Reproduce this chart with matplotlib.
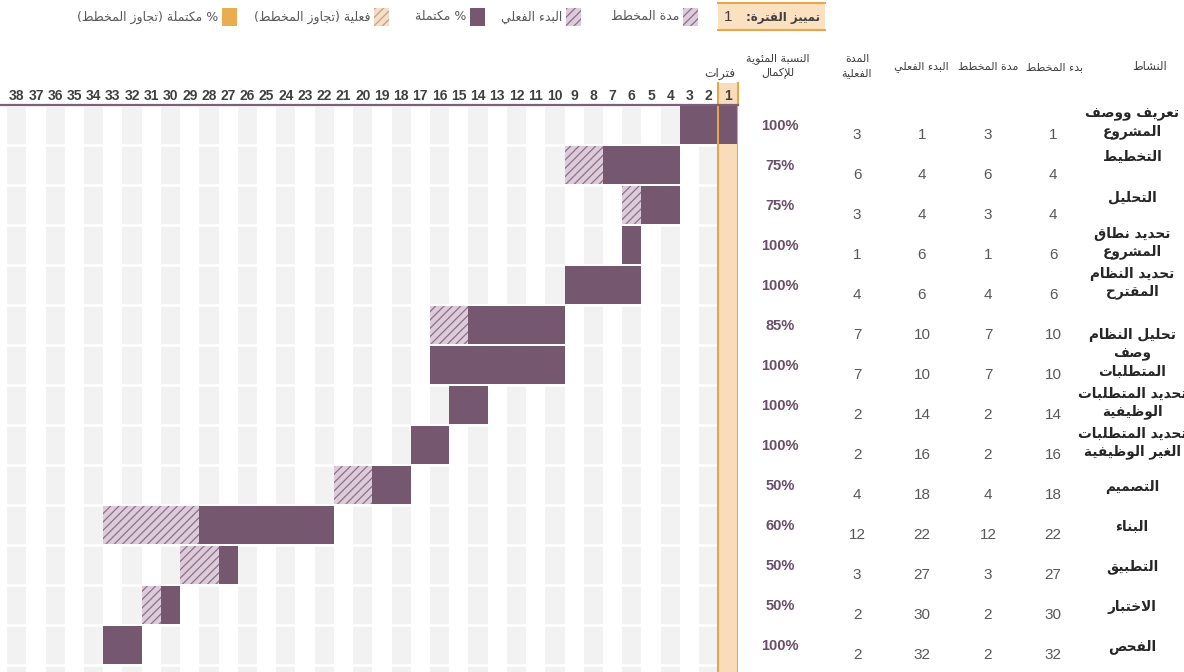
import matplotlib
matplotlib.use("Agg")
import matplotlib.pyplot as plt
from matplotlib import transforms
from matplotlib.patches import Rectangle

# ---- data ----
activities = ["تعريف ووصف\nالمشروع", "التخطيط", "التحليل", "تحديد نطاق\nالمشروع",
              "تحديد النظام\nالمقترح", "تحليل النظام", "وصف\nالمتطلبات",
              "تحديد المتطلبات\nالوظيفية", "تحديد المتطلبات\nالغير الوظيفية",
              "التصميم", "البناء", "التطبيق", "الاختبار", "الفحص"]
plan_start = [1, 4, 4, 6, 6, 10, 10, 14, 16, 18, 22, 27, 30, 32]
plan_dur = [3, 6, 3, 1, 4, 7, 7, 2, 2, 4, 12, 3, 2, 2]
actual_start = [1, 4, 4, 6, 6, 10, 10, 14, 16, 18, 22, 27, 30, 32]
actual_dur = [3, 6, 3, 1, 4, 7, 7, 2, 2, 4, 12, 3, 2, 2]
pct_complete = [100, 75, 75, 100, 100, 85, 100, 100, 100, 50, 60, 50, 50, 100]
periods = list(range(1, 39))
highlight_period = 1

headers = ["النشاط", "بدء المخطط", "مدة المخطط", "البدء الفعلي", "المدة\nالفعلية",
           "النسبة المئوية\nللإكمال", "فترات"]
legend_labels = ["تمييز الفترة:", "مدة المخطط", "البدء الفعلي", "% مكتملة",
                 "فعلية (تجاوز المخطط)", "% مكتملة (تجاوز المخطط)"]

# ---- simple arabic shaping (matplotlib has no bidi/shaping) ----
_forms = [(0x621, 0xFE80, 1), (0x622, 0xFE81, 2), (0x623, 0xFE83, 2), (0x624, 0xFE85, 2),
          (0x625, 0xFE87, 2), (0x626, 0xFE89, 4), (0x627, 0xFE8D, 2), (0x628, 0xFE8F, 4),
          (0x629, 0xFE93, 2), (0x62A, 0xFE95, 4), (0x62B, 0xFE99, 4), (0x62C, 0xFE9D, 4),
          (0x62D, 0xFEA1, 4), (0x62E, 0xFEA5, 4), (0x62F, 0xFEA9, 2), (0x630, 0xFEAB, 2),
          (0x631, 0xFEAD, 2), (0x632, 0xFEAF, 2), (0x633, 0xFEB1, 4), (0x634, 0xFEB5, 4),
          (0x635, 0xFEB9, 4), (0x636, 0xFEBD, 4), (0x637, 0xFEC1, 4), (0x638, 0xFEC5, 4),
          (0x639, 0xFEC9, 4), (0x63A, 0xFECD, 4), (0x641, 0xFED1, 4), (0x642, 0xFED5, 4),
          (0x643, 0xFED9, 4), (0x644, 0xFEDD, 4), (0x645, 0xFEE1, 4), (0x646, 0xFEE5, 4),
          (0x647, 0xFEE9, 4), (0x648, 0xFEED, 2), (0x649, 0xFEEF, 2), (0x64A, 0xFEF1, 4)]
FORMS = {chr(c): (s, n) for c, s, n in _forms}
LAMALEF = {"\u0622": 0xFEF5, "\u0623": 0xFEF7, "\u0625": 0xFEF9, "\u0627": 0xFEFB}
MIRROR = {"(": ")", ")": "("}


def shape_line(s):
    out = []
    i = 0
    while i < len(s):
        c = s[i]
        if c not in FORMS:
            out.append(MIRROR.get(c, c))
            i += 1
            continue
        prev = s[i - 1] if i > 0 else None
        nxt = s[i + 1] if i + 1 < len(s) else None
        jp = prev in FORMS and FORMS[prev][1] == 4
        if c == "\u0644" and nxt in LAMALEF:
            out.append(chr(LAMALEF[nxt] + (1 if jp else 0)))
            i += 2
            continue
        start, n = FORMS[c]
        jn = n == 4 and nxt in FORMS
        if n == 1:
            code = start
        elif jp and jn:
            code = start + 3
        elif jp:
            code = start + 1
        elif jn:
            code = start + 2
        else:
            code = start
        out.append(chr(code))
        i += 1
    return "".join(reversed(out))


def ar(s):
    return "\n".join(shape_line(l) for l in s.split("\n"))


# ---- style ----
purple = "#75576f"
hatch_bg = "#dccbd9"
hatch_fg = "#8e6d8a"
stripe = "#f2f2f2"
hl_fill = "#f9ddba"
hl_edge = "#e6a64e"
orange = "#e9ac50"
plt.rcParams["font.family"] = ["DejaVu Sans"]
plt.rcParams["hatch.linewidth"] = 0.9
num_font = ["Liberation Sans", "DejaVu Sans"]

W, H = 1184, 672
fig = plt.figure(figsize=(W / 100, H / 100), dpi=100)

# gantt area: column n spans [n-1, n], drawn right-to-left
col_w = 19.22
x_right = 737.5
top = 105
row_h = 40
ax = fig.add_axes([0, 0, x_right / W, (H - top) / H])
ax.set_xlim(x_right / col_w, 0)
ax.set_ylim((H - top) / row_h, 0)
ax.axis("off")

for p in periods:
    if p % 2 == 0:
        ax.axvspan(p - 1, p, color=stripe, lw=0, zorder=0)
for r in range(len(activities) + 1):
    ax.axhline(r, color="white", lw=2, zorder=1)

ax.axvspan(highlight_period - 1, highlight_period, color=hl_fill, lw=0, zorder=1.5)

for i in range(len(activities)):
    ax.barh(i + 0.5, plan_dur[i], left=plan_start[i] - 1, height=0.96,
            facecolor=hatch_bg, edgecolor=hatch_fg, hatch="////", lw=0, zorder=2)
    done = int(actual_dur[i] * pct_complete[i] / 100)
    ax.barh(i + 0.5, done, left=actual_start[i] - 1, height=0.96,
            color=purple, lw=0, zorder=3)

ax.axvline(highlight_period - 1, color=hl_edge, lw=1.5, zorder=4)
ax.axvline(highlight_period, color=hl_edge, lw=1.5, zorder=4)

# overlay in pixel coords for header, table and legend
tab = fig.add_axes([0, 0, 1, 1], facecolor="none")
tab.set_xlim(0, W)
tab.set_ylim(H, 0)
tab.axis("off")
mix = transforms.blended_transform_factory(ax.transData, tab.transData)

tab.add_patch(Rectangle((highlight_period - 1, 83), 1, top - 83, transform=mix,
                        facecolor=hl_fill, edgecolor="none", zorder=1))
tab.plot([highlight_period - 1] * 2, [83, top], transform=mix, color=hl_edge, lw=1.5)
tab.plot([highlight_period] * 2, [83, top], transform=mix, color=hl_edge, lw=1.5)
tab.plot([0, x_right], [top, top], color="#7b6079", lw=1.6)

for p in periods:
    tab.text(p - 0.5, 96, str(p), transform=mix, ha="center", va="center",
             fontsize=10, color="#404040", family=num_font, fontweight="bold")

# table headers
hx = [1150, 1055, 988, 921, 857, 778, 720]
hy = [67, 67, 67, 67, 66, 66, 74]
hs = [8.3, 8.0, 8.0, 8.0, 8.0, 8.0, 8.8]
for t, x, y, s in zip(headers, hx, hy, hs):
    tab.text(x, y, ar(t), ha="center", va="center", fontsize=s, color="#404040",
             linespacing=1.45)

# table body
name_dy = [18, 12, 12, 18, 18, 30, 18, 18, 18, 22, 22, 22, 22, 22]
num_x = [1053, 988, 922, 857]
for i in range(len(activities)):
    y0 = top + i * row_h
    tab.text(1132, y0 + name_dy[i], ar(activities[i]), ha="center", va="center",
             fontsize=9.8, fontweight="bold", color="#262626", linespacing=1.35)
    tab.text(780, y0 + 21, f"{pct_complete[i]}%", ha="center", va="center",
             fontsize=10.5, fontweight="bold", color="#6b4e69", family=num_font)
    vals = [plan_start[i], plan_dur[i], actual_start[i], actual_dur[i]]
    for v, x in zip(vals, num_x):
        tab.text(x, y0 + 30, str(v), ha="center", va="center", fontsize=11,
                 color="#595959", family=num_font)

# legend row
tab.add_patch(Rectangle((718, 3), 107, 27, facecolor="#fbe1c0", edgecolor="none"))
tab.plot([718, 825], [3, 3], color=hl_edge, lw=1.5)
tab.plot([718, 825], [30, 30], color=hl_edge, lw=1.5)
tab.text(820, 17, ar(legend_labels[0]), ha="right", va="center", fontsize=8.5,
         fontweight="bold", color="#404040")
tab.text(728, 17, str(highlight_period), ha="center", va="center", fontsize=11,
         color="#404040", family=num_font)

swatches = [(683, hatch_bg, hatch_fg, "////"), (566, hatch_bg, hatch_fg, "////"),
            (470, purple, purple, None), (374, "#f3dfc9", "#c9a07a", "////"),
            (222, orange, orange, None)]
for (sx, fc, ec, hp), lab in zip(swatches, legend_labels[1:]):
    tab.add_patch(Rectangle((sx, 8), 15, 18, facecolor=fc, edgecolor=ec, hatch=hp, lw=0))
    tab.text(sx - 4, 17, ar(lab), ha="right", va="center", fontsize=9, color="#595959")

fig.savefig("out.png", dpi=100)
